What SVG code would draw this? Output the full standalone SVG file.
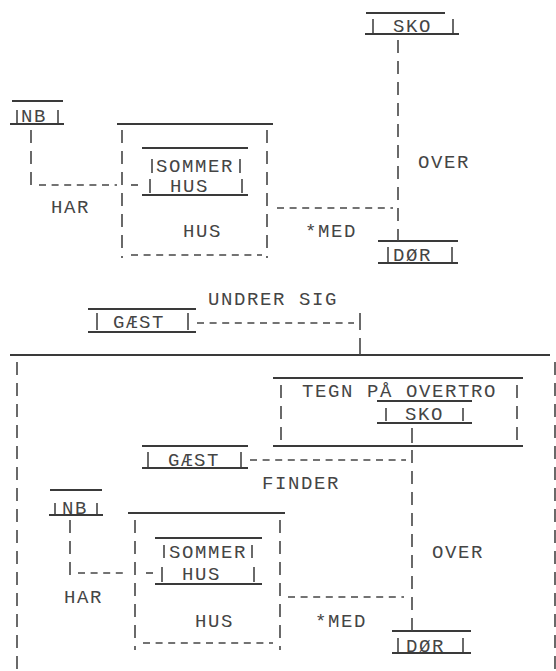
<svg xmlns="http://www.w3.org/2000/svg" width="556" height="671" viewBox="0 0 556 671">
<style>
.t{font-family:"Liberation Mono","Courier New",monospace;font-size:19px;letter-spacing:1.6px;fill:#454545}
.s{stroke:#3a3a3a;stroke-width:2.2;fill:none}
.p{stroke:#454545;stroke-width:1.6;fill:none}
.v{stroke:#454545;stroke-width:1.6;stroke-dasharray:13 8;fill:none}
.h{stroke:#454545;stroke-width:1.6;stroke-dasharray:7 5.6;fill:none}
</style>
<rect width="556" height="671" fill="#fff"/>

<g id="nb1">
<line class="s" x1="12" y1="101" x2="63" y2="101"/>
<line class="s" x1="10" y1="124" x2="64" y2="124"/>
<line class="p" x1="17" y1="110" x2="17" y2="123"/>
<line class="p" x1="58" y1="110" x2="58" y2="123"/>
<text class="t" x="21" y="122">NB</text>
</g>

<g id="hus1">
<line class="s" x1="117" y1="124" x2="273" y2="124"/>
<line class="v" x1="122" y1="130" x2="122" y2="258"/>
<line class="v" x1="267" y1="130" x2="267" y2="258"/>
<line class="h" x1="131" y1="255" x2="262" y2="255"/>
<text class="t" x="183" y="237">HUS</text>
</g>

<g id="sommerhus1">
<line class="s" x1="142" y1="148" x2="248" y2="148"/>
<line class="s" x1="142" y1="195" x2="248" y2="195"/>
<line class="p" x1="152" y1="159" x2="152" y2="173"/>
<line class="p" x1="150" y1="179" x2="150" y2="193"/>
<line class="p" x1="240" y1="159" x2="240" y2="173"/>
<line class="p" x1="242" y1="179" x2="242" y2="193"/>
<text class="t" x="156" y="172">SOMMER</text>
<text class="t" x="170" y="192">HUS</text>
</g>

<g id="sko1">
<line class="s" x1="366" y1="13" x2="445" y2="13"/>
<line class="s" x1="365" y1="34" x2="459" y2="34"/>
<line class="p" x1="373" y1="19" x2="373" y2="33"/>
<line class="p" x1="453" y1="19" x2="453" y2="33"/>
<text class="t" x="393" y="32">SKO</text>
</g>

<g id="dor1">
<line class="s" x1="378" y1="241" x2="458" y2="241"/>
<line class="s" x1="378" y1="263" x2="458" y2="263"/>
<line class="p" x1="388" y1="247" x2="388" y2="262"/>
<line class="p" x1="452" y1="247" x2="452" y2="262"/>
<text class="t" x="393" y="261">DØR</text>
</g>

<g id="gaest1">
<line class="s" x1="88" y1="309" x2="196" y2="309"/>
<line class="s" x1="88" y1="332" x2="196" y2="332"/>
<line class="p" x1="97" y1="313" x2="97" y2="330"/>
<line class="p" x1="188" y1="313" x2="188" y2="330"/>
<text class="t" x="113" y="328">GÆST</text>
</g>

<g id="context">
<line class="s" x1="10" y1="355" x2="550" y2="355"/>
<line class="v" x1="17" y1="362" x2="17" y2="671"/>
<line class="v" x1="555" y1="362" x2="555" y2="671"/>
</g>

<g id="tegn">
<line class="s" x1="273" y1="378" x2="523" y2="378"/>
<line class="s" x1="273" y1="446" x2="523" y2="446"/>
<line class="v" x1="281" y1="385" x2="281" y2="443"/>
<line class="v" x1="517" y1="385" x2="517" y2="443"/>
<text class="t" x="302" y="397">TEGN PÅ OVERTRO</text>
</g>

<g id="sko2">
<line class="s" x1="377" y1="401" x2="472" y2="401"/>
<line class="s" x1="377" y1="423" x2="472" y2="423"/>
<line class="p" x1="386" y1="408" x2="386" y2="421"/>
<line class="p" x1="463" y1="408" x2="463" y2="421"/>
<text class="t" x="405" y="420">SKO</text>
</g>

<g id="gaest2">
<line class="s" x1="142" y1="446" x2="248" y2="446"/>
<line class="s" x1="142" y1="468" x2="248" y2="468"/>
<line class="p" x1="148" y1="452" x2="148" y2="467"/>
<line class="p" x1="241" y1="452" x2="241" y2="467"/>
<text class="t" x="168" y="466">GÆST</text>
</g>

<g id="nb2">
<line class="s" x1="50" y1="490" x2="102" y2="490"/>
<line class="s" x1="49" y1="515" x2="103" y2="515"/>
<line class="p" x1="55" y1="503" x2="55" y2="514"/>
<line class="p" x1="97" y1="503" x2="97" y2="514"/>
<text class="t" x="62" y="514">NB</text>
</g>

<g id="hus2">
<line class="s" x1="128" y1="513" x2="285" y2="513"/>
<line class="v" x1="135" y1="520" x2="135" y2="650"/>
<line class="v" x1="280" y1="520" x2="280" y2="650"/>
<line class="h" x1="143" y1="643" x2="273" y2="643"/>
<text class="t" x="195" y="627">HUS</text>
</g>

<g id="sommerhus2">
<line class="s" x1="155" y1="538" x2="262" y2="538"/>
<line class="s" x1="155" y1="584" x2="262" y2="584"/>
<line class="p" x1="164" y1="545" x2="164" y2="558"/>
<line class="p" x1="162" y1="567" x2="162" y2="582"/>
<line class="p" x1="252" y1="545" x2="252" y2="558"/>
<line class="p" x1="254" y1="567" x2="254" y2="582"/>
<text class="t" x="169" y="558">SOMMER</text>
<text class="t" x="182" y="580">HUS</text>
</g>

<g id="dor2">
<line class="s" x1="392" y1="631" x2="471" y2="631"/>
<line class="s" x1="392" y1="653" x2="471" y2="653"/>
<line class="p" x1="398" y1="638" x2="398" y2="652"/>
<line class="p" x1="463" y1="638" x2="463" y2="652"/>
<text class="t" x="406" y="652">DØR</text>
</g>

<g id="connectors">
<line class="v" x1="31" y1="130" x2="31" y2="189"/>
<line class="h" x1="39" y1="185" x2="117" y2="185"/>
<line class="p" x1="131" y1="185" x2="138" y2="185"/>
<text class="t" x="51" y="213">HAR</text>
<line class="h" x1="277" y1="208" x2="393" y2="208"/>
<line class="v" x1="398" y1="40" x2="398" y2="241"/>
<text class="t" x="418" y="168">OVER</text>
<text class="t" x="305" y="237">*MED</text>
<line class="h" x1="197" y1="323" x2="354" y2="323"/>
<line class="p" x1="360" y1="313" x2="360" y2="330"/>
<line class="p" x1="360" y1="338" x2="360" y2="355"/>
<text class="t" x="208" y="305">UNDRER SIG</text>
<line class="p" x1="412" y1="428" x2="412" y2="443"/>
<line class="h" x1="250" y1="460" x2="406" y2="460"/>
<line class="v" x1="412" y1="450" x2="412" y2="631"/>
<text class="t" x="262" y="489">FINDER</text>
<line class="v" x1="70" y1="520" x2="70" y2="581"/>
<line class="h" x1="78" y1="573" x2="128" y2="573"/>
<line class="p" x1="146" y1="573" x2="153" y2="573"/>
<text class="t" x="64" y="603">HAR</text>
<line class="h" x1="288" y1="597" x2="404" y2="597"/>
<text class="t" x="432" y="558">OVER</text>
<text class="t" x="315" y="627">*MED</text>
</g>
</svg>
